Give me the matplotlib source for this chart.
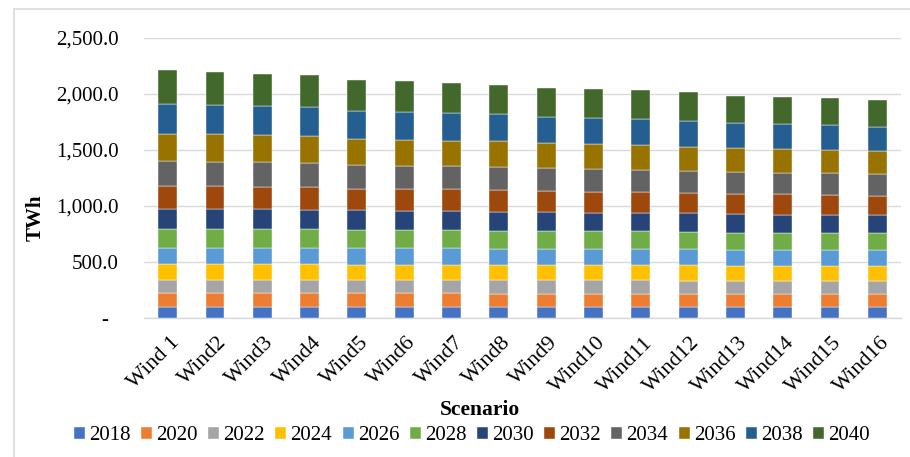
import numpy as np
import matplotlib
matplotlib.use("Agg")
import matplotlib.pyplot as plt
from matplotlib.patches import Rectangle
from matplotlib.ticker import FuncFormatter
from matplotlib.transforms import ScaledTranslation

plt.rcParams["font.family"] = ["Liberation Serif", "DejaVu Serif"]

# scenarios on the x axis
scenarios = ["Wind 1", "Wind2", "Wind3", "Wind4", "Wind5", "Wind6", "Wind7", "Wind8",
             "Wind9", "Wind10", "Wind11", "Wind12", "Wind13", "Wind14", "Wind15", "Wind16"]

years = ["2018", "2020", "2022", "2024", "2026", "2028",
         "2030", "2032", "2034", "2036", "2038", "2040"]

# TWh per year, one value per scenario
y2018 = [98, 98, 98, 98, 98, 98, 98, 98, 98, 98, 98, 98, 98, 98, 98, 98]
y2020 = [119, 119, 119, 119, 119, 119, 119, 116, 116, 116, 116, 116, 116, 116, 116, 116]
y2022 = [119, 119, 119, 119, 119, 119, 119, 122, 122, 122, 122, 116, 116, 116, 116, 116]
y2024 = [140, 140, 140, 140, 137, 137, 134, 134, 134, 134, 134, 137, 134, 134, 134, 134]
y2026 = [149, 149, 149, 149, 146, 146, 149, 146, 143, 143, 140, 143, 143, 143, 137, 137]
y2028 = [167, 167, 167, 164, 164, 164, 161, 161, 161, 158, 161, 155, 152, 149, 152, 152]
y2030 = [182, 179, 176, 176, 176, 173, 176, 170, 167, 167, 167, 167, 167, 164, 164, 161]
y2032 = [205, 202, 202, 199, 193, 193, 190, 193, 190, 188, 182, 185, 182, 182, 179, 176]
y2034 = [220, 220, 217, 217, 208, 208, 205, 205, 202, 199, 202, 196, 190, 193, 193, 193]
y2036 = [244, 244, 241, 238, 235, 229, 229, 229, 223, 223, 217, 214, 214, 208, 205, 202]
y2038 = [268, 265, 265, 259, 253, 253, 244, 241, 238, 235, 232, 232, 223, 223, 223, 220]
y2040 = [298, 292, 286, 286, 277, 271, 271, 265, 259, 259, 259, 256, 247, 244, 241, 238]

series = [y2018, y2020, y2022, y2024, y2026, y2028,
          y2030, y2032, y2034, y2036, y2038, y2040]

colors = ["#4472C4", "#ED7D31", "#A5A5A5", "#FFC000", "#5B9BD5", "#70AD47",
          "#264478", "#9E480E", "#636363", "#997300", "#255E91", "#43682B"]

W, H = 910, 457
fig = plt.figure(figsize=(W / 100, H / 100), dpi=100)
ax = fig.add_axes([144 / W, 1 - 317.7 / H, (901 - 144) / W, (317.7 - 37.7) / H])

# light chart frame like the Excel chart area
fig.patches.append(Rectangle((14.5 / W, -0.2), 1.2, 1 - 8.5 / H + 0.2,
                             transform=fig.transFigure, fill=False,
                             edgecolor="#d9d9d9", linewidth=1.2))

x = np.arange(len(scenarios))
bottom = np.zeros(len(scenarios))
handles = []
for vals, col, yr in zip(series, colors, years):
    vals = np.array(vals, dtype=float)
    b = ax.bar(x, vals, width=0.4, bottom=bottom, color=col, label=yr,
               edgecolor="white", linewidth=0.3, zorder=3)
    handles.append(b)
    bottom += vals

ax.set_xlim(-0.5, len(scenarios) - 0.5)
ax.set_ylim(0, 2500)
ax.set_yticks(np.arange(0, 2501, 500))


def fmt(v, pos):
    if v == 0:
        return "-  "
    return f"{v:,.1f}"


ax.yaxis.set_major_formatter(FuncFormatter(fmt))
ax.tick_params(axis="y", length=0, pad=18, labelsize=15)
ax.tick_params(axis="x", length=0, pad=16, labelsize=16)
ax.grid(axis="y", color="#d9d9d9", linewidth=1.0, zorder=0)
for s in ["top", "right", "left"]:
    ax.spines[s].set_visible(False)
ax.spines["bottom"].set_color("#d9d9d9")
ax.spines["bottom"].set_linewidth(1.0)

ax.set_xticks(x)
ax.set_xticklabels(scenarios, rotation=45, ha="right", va="center",
                   rotation_mode="anchor")
for lab in ax.get_xticklabels():
    lab.set_transform(lab.get_transform() + ScaledTranslation(9 / 100, 0, fig.dpi_scale_trans))

fig.text(36 / W, 1 - 218 / H, "TWh", rotation=90, ha="center", va="center",
         fontsize=15, fontweight="bold")
fig.text(480 / W, 1 - 410 / H, "Scenario", ha="center", va="center",
         fontsize=15.5, fontweight="bold")

fig.legend(handles, years, loc="center", bbox_to_anchor=(472 / W, 1 - 436 / H),
           ncol=12, frameon=False, fontsize=15, handlelength=0.53, handleheight=0.53,
           handletextpad=0.2, columnspacing=0.5, borderpad=0, borderaxespad=0)

fig.savefig("out.png", dpi=100)
